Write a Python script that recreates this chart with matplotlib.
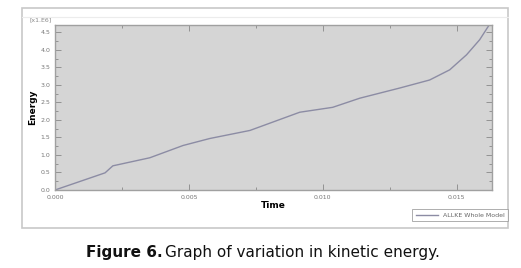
import matplotlib
matplotlib.use('Agg')
import matplotlib.pyplot as plt
import matplotlib.ticker as ticker
from matplotlib.patches import Rectangle

# kinetic energy curve (time in s, energy in 1e6 units)
time = [0.0, 0.00187, 0.00216, 0.00354, 0.00478, 0.00578, 0.00728, 0.00914,
        0.01037, 0.01138, 0.01287, 0.01399, 0.01474, 0.01537, 0.01586, 0.01623]
energy = [0.0, 0.49, 0.69, 0.92, 1.27, 1.47, 1.70, 2.22,
          2.36, 2.62, 2.91, 3.14, 3.43, 3.86, 4.29, 4.73]
x_ticks = [0.000, 0.005, 0.010, 0.015]
y_ticks = [0.0, 0.5, 1.0, 1.5, 2.0, 2.5, 3.0, 3.5, 4.0, 4.5]

fig = plt.figure(figsize=(5.21, 2.68), dpi=100)
W, H = 521, 268

# outer frame of the screenshot
fig.patches.append(Rectangle((22 / W, 1 - 228 / H), 486 / W, 220 / H,
                             transform=fig.transFigure, fill=False,
                             edgecolor='#c8c8c8', linewidth=1.2))
fig.add_artist(plt.Line2D([22 / W, 508 / W], [1 - 17 / H, 1 - 17 / H],
                          transform=fig.transFigure, color='#ececec', linewidth=0.8))

ax = fig.add_axes([55 / W, 1 - 190 / H, 437 / W, 165 / H])
ax.set_facecolor('#d5d5d5')
ax.plot(time, energy, color='#8c8ca4', linewidth=1.0, label='ALLKE Whole Model')
ax.set_xlim(0, 0.01632)
ax.set_ylim(0, 4.71)
ax.set_xticks(x_ticks)
ax.set_xticklabels([f'{v:.3f}' for v in x_ticks])
ax.set_yticks(y_ticks)
ax.set_yticklabels([f'{v:.1f}' for v in y_ticks])
ax.xaxis.set_minor_locator(ticker.MultipleLocator(0.0025))
ax.yaxis.set_minor_locator(ticker.MultipleLocator(0.25))
ax.tick_params(which='both', direction='in', top=True, right=True,
               labelsize=4.5, colors='#888888', labelcolor='#777777', width=0.6)
ax.tick_params(which='major', length=4)
ax.tick_params(which='minor', length=2)
for s in ax.spines.values():
    s.set_color('#a0a0a0')
    s.set_linewidth(1.0)

ax.set_xlabel('Time', fontsize=6.5, fontweight='bold', labelpad=1)
ax.set_ylabel('Energy', fontsize=6.5, fontweight='bold', labelpad=2)
fig.text(30 / W, 1 - 20 / H, '[x1.E6]', fontsize=4.5, color='#888888',
         ha='left', va='center')

leg = fig.legend(loc='center', bbox_to_anchor=(460 / W, 1 - 215 / H),
                 fontsize=4.5, frameon=True, fancybox=False, handlelength=3.5,
                 borderpad=0.6)
leg.get_frame().set_edgecolor('#999999')
leg.get_frame().set_linewidth(0.7)
for t in leg.get_texts():
    t.set_color('#666666')

fig.text(86 / W, 1 - 253 / H, 'Figure 6.', fontsize=11, fontweight='bold',
         ha='left', va='center', color='#111111')
fig.text(165 / W, 1 - 253 / H, 'Graph of variation in kinetic energy.',
         fontsize=11, ha='left', va='center', color='#111111')

fig.savefig('out.png', dpi=100)
